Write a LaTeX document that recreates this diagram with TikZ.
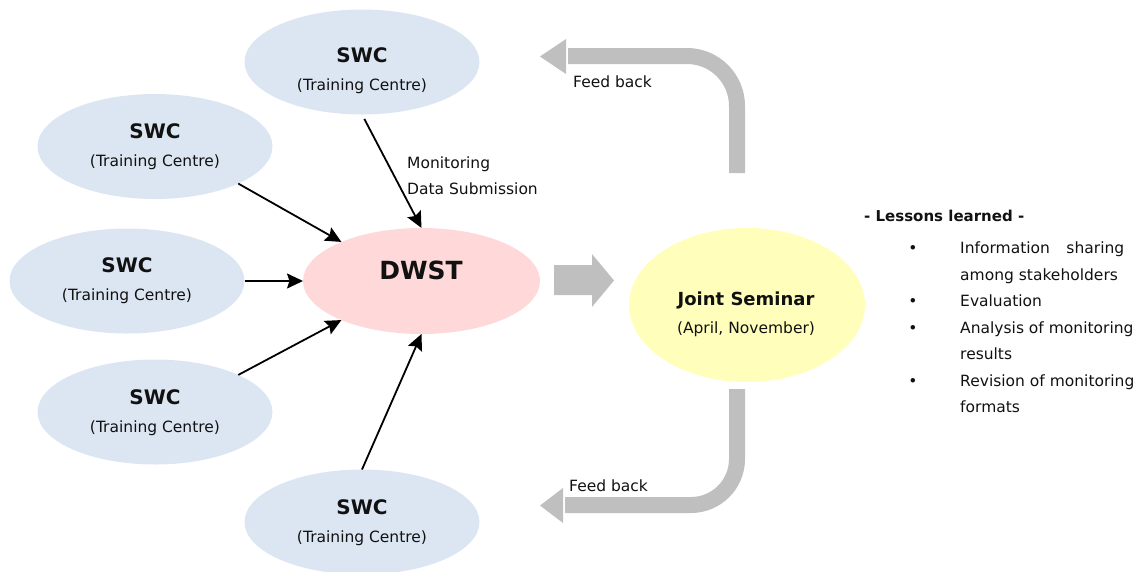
\documentclass[tikz,border=0pt]{standalone}
\usepackage{fontspec}
\setmainfont{DejaVu Sans}
\usetikzlibrary{shapes.geometric,arrows.meta}

\definecolor{swcblue}{HTML}{DCE6F2}
\definecolor{dwstpink}{HTML}{FFD9D9}
\definecolor{seminaryellow}{HTML}{FFFFBB}
\definecolor{arrowgray}{HTML}{BFBFBF}
\definecolor{ink}{HTML}{111111}

\newcommand\swclabel{{\bfseries\fontsize{20}{28}\selectfont SWC}\\(Training Centre)}

\begin{document}
\begin{tikzpicture}[x=1pt,y=-1pt,
  blob/.style={ellipse, draw=none, inner sep=0pt, outer sep=0pt},
  swc/.style={blob, fill=swcblue, minimum width=235pt, minimum height=105pt},
  twoline/.style={align=center, inner sep=0pt, text=ink, font=\fontsize{15.5}{28}\selectfont},
  plain/.style={inner sep=0pt, anchor=base west, text=ink, font=\fontsize{15.5}{18}\selectfont},
  bulletmark/.style={inner sep=0pt, anchor=base, text=ink, font=\fontsize{15.5}{18}\selectfont},
  conn/.style={line width=1.8pt, draw=black, -{Stealth[length=16pt,width=15pt,inset=2.5pt]}},
  feedband/.style={draw=arrowgray, line width=16pt},
]
\useasboundingbox (0,0) rectangle (1138,571);

% ---- ellipses ----
\node[swc] (s1) at (362,62) {};
\node[swc] (s2) at (155,146.5) {};
\node[swc] (s3) at (127,281) {};
\node[swc] (s4) at (155,412) {};
\node[swc] (s5) at (362,522) {};
\node[blob, fill=dwstpink, minimum width=237pt, minimum height=106pt] (dwst) at (421.5,281) {};
\node[blob, fill=seminaryellow, minimum width=236pt, minimum height=154pt] (js) at (747,305) {};

% ---- ellipse texts ----
\node[twoline] (s1t) at (362,70.5) {\swclabel};
\node[twoline] (s2t) at (155,147) {\swclabel};
\node[twoline] (s3t) at (127,281) {\swclabel};
\node[twoline] (s4t) at (155,413) {\swclabel};
\node[twoline] (s5t) at (362,523) {\swclabel};
\node[inner sep=0pt, text=ink, font=\bfseries\fontsize{25}{30}\selectfont] (dwstt) at (421,270) {DWST};
\node[twoline] (jst) at (746,314) {{\bfseries\fontsize{18}{28}\selectfont Joint Seminar}\\(April, November)};

% ---- submissions into DWST ----
\draw[conn, shorten <=5pt] (s1.south) -- (dwst.north);
\draw[conn] (s2.-24) -- (dwst.154);
\draw[conn] (s3.east) -- (dwst.west);
\draw[conn] (s4.24) -- (dwst.206);
\draw[conn] (s5.north) -- (dwst.south);

\node[plain] (mon1) at (407,168.5) {Monitoring};
\node[plain] (mon2) at (407,194) {Data Submission};

% ---- DWST to seminar block arrow ----
\fill[arrowgray] (554,265) -- (592,265) -- (592,254) -- (614,280.5)
  -- (592,307) -- (592,295) -- (554,295) -- cycle;

% ---- feed back arrows ----
\draw[feedband, rounded corners=50pt] (737,173) |- (568,56);
\fill[arrowgray] (566,39) -- (540,56.5) -- (566,74) -- cycle;
\node[plain] (fb1) at (573,87.5) {Feed back};

\draw[feedband, rounded corners=46pt] (737,389) |- (565,505);
\fill[arrowgray] (563,488) -- (540,505.5) -- (563,523) -- cycle;
\node[plain] (fb2) at (569,491.5) {Feed back};

% ---- lessons learned ----
\node[plain, font=\bfseries\fontsize{15}{18}\selectfont] (ll) at (864,221.5) {- Lessons learned -};
\node[bulletmark] (b1) at (913,253.5) {•};
\node[bulletmark] (b2) at (913,306.5) {•};
\node[bulletmark] (b3) at (913,333) {•};
\node[bulletmark] (b4) at (913,386) {•};
\node[plain] (l1) at (960,253.5) {\hbox to 164pt{Information\hfill sharing}};
\node[plain] (l2) at (960,280) {among stakeholders};
\node[plain] (l3) at (960,306.5) {Evaluation};
\node[plain] (l4) at (960,333) {Analysis of monitoring};
\node[plain] (l5) at (960,359.5) {results};
\node[plain] (l6) at (960,386) {Revision of monitoring};
\node[plain] (l7) at (960,412) {formats};
\end{tikzpicture}
\end{document}
